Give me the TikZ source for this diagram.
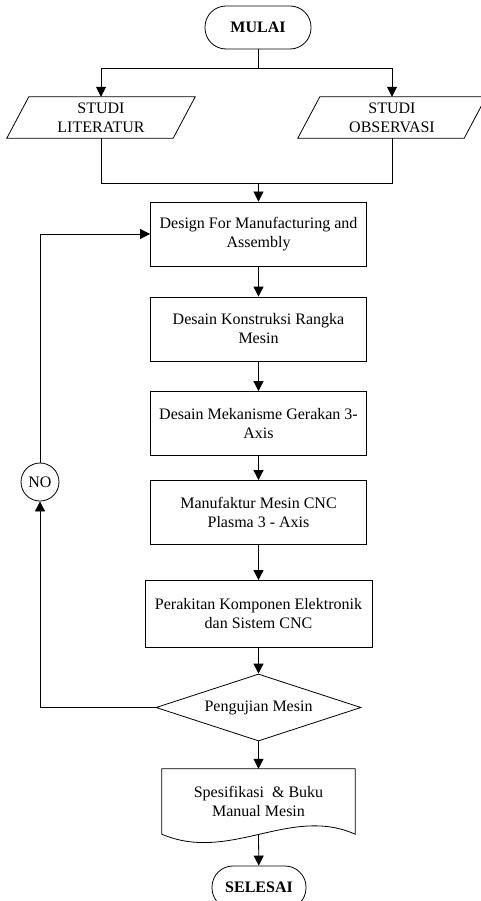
\documentclass[tikz,border=0pt]{standalone}
\usepackage{fontspec}
\setmainfont{Liberation Serif}
\usetikzlibrary{arrows.meta,shapes.geometric,calc}
\begin{document}
\begin{tikzpicture}[x=1pt,y=-1pt,
  every node/.style={font=\fontsize{16}{19}\selectfont, align=center, inner sep=0pt},
  line/.style={draw=black, line width=0.8pt},
  arr/.style={line, -{Triangle[length=10pt,width=10pt]}},
  procbox/.style={draw, line width=0.8pt, minimum width=216pt, minimum height=64pt},
  termbox/.style={draw, line width=0.8pt, rounded corners=21pt, minimum height=43pt, font=\fontsize{16}{19}\selectfont\bfseries},
  iobox/.style={minimum width=166pt, minimum height=41pt},
  ]
\useasboundingbox (0,0) rectangle (480,901);
\fill[white] (0,0) rectangle (480,901);

% nodes
\node[termbox, minimum width=106pt] (start) at (258,27.5) {MULAI};
\node[iobox] (lit) at (101,117.5) {STUDI\\LITERATUR};
\node[iobox] (obs) at (392,117.5) {STUDI\\OBSERVASI};
\draw[line] ([xshift=11pt]lit.north west) -- ([xshift=11pt]lit.north east) -- ([xshift=-11pt]lit.south east) -- ([xshift=-11pt]lit.south west) -- cycle;
\draw[line] ([xshift=11pt]obs.north west) -- ([xshift=11pt]obs.north east) -- ([xshift=-11pt]obs.south east) -- ([xshift=-11pt]obs.south west) -- cycle;

\node[procbox] (b1) at (258.5,234) {Design For Manufacturing and\\Assembly};
\node[procbox] (b2) at (258.5,329) {Desain Konstruksi Rangka\\Mesin};
\node[procbox] (b3) at (258.5,423.5) {Desain Mekanisme Gerakan 3-\\Axis};
\node[procbox] (b4) at (258.5,512.5) {Manufaktur Mesin CNC\\Plasma 3 - Axis};
\node[procbox, minimum width=227pt, minimum height=67pt] (b5) at (258.5,614) {Perakitan Komponen Elektronik\\dan Sistem CNC};
\node[draw, diamond, line width=0.8pt, aspect=3.06, minimum width=205pt, minimum height=67pt] (dec) at (258.5,707.5) {Pengujian Mesin};
\node[minimum width=193pt, minimum height=65pt] (doc) at (258.5,801.5) {Spesifikasi\ \ \& Buku\\Manual Mesin};
\draw[line] (doc.south west) -- (doc.north west) -- (doc.north east) -- (doc.south east)
  .. controls ($(doc.south east)+(-65,-29)$) and ($(doc.south west)+(68,29)$) .. (doc.south west) -- cycle;
\node[termbox, minimum width=94pt] (end) at (259,887.5) {SELESAI};
\node[draw, circle, line width=0.8pt, minimum size=38pt] (no) at (40,482) {NO};

% connectors
\coordinate (split) at (258,68);
\coordinate (join) at (258.5,183);
\draw[line] (start) -- (split);
\draw[arr] (split) -| (lit.north);
\draw[arr] (split) -| (obs.north);
\draw[line] (lit.south) |- (join);
\draw[line] (obs.south) |- (join);
\draw[arr] (join) -- (b1);
\draw[arr] (b1) -- (b2);
\draw[arr] (b2) -- (b3);
\draw[arr] (b3) -- (b4);
\draw[arr] (b4) -- (b5);
\draw[arr] (b5) -- (dec);
\draw[arr] (dec) -- (doc);
\draw[arr] (doc.south) -- (end);
\draw[arr] (dec.west) -| (no.south);
\draw[arr] (no.north) |- (b1.west);
\end{tikzpicture}
\end{document}
